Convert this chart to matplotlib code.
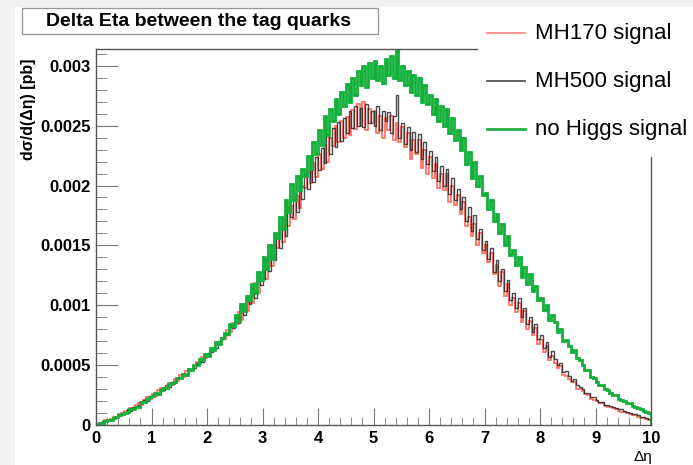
import numpy as np
import matplotlib.pyplot as plt
from matplotlib.lines import Line2D
from matplotlib.patches import Rectangle

plt.rcParams["font.family"] = ["Liberation Sans", "DejaVu Sans"]

# bin contents, in units of 1e-5 pb (bins of 0.05 from 0 to 10),
# one row per 0.25 in delta eta
mh170 = [
    1, 2, 2, 4, 4,
    5, 7, 6, 9, 10,
    12, 11, 14, 13, 17,
    18, 17, 21, 23, 22,
    26, 24, 29, 31, 29,
    31, 35, 33, 38, 37,
    42, 40, 45, 47, 46,
    50, 53, 51, 57, 56,
    58, 63, 62, 68, 67,
    73, 72, 79, 78, 85,
    84, 94, 88, 101, 95,
    108, 102, 119, 110, 127,
    131, 122, 143, 133, 153,
    148, 165, 153, 175, 166,
    183, 172, 191, 181, 200,
    198, 211, 202, 219, 207,
    226, 214, 234, 220, 240,
    233, 250, 236, 254, 240,
    257, 242, 263, 247, 268,
    250, 270, 246, 264, 252,
    262, 244, 258, 240, 256,
    246, 258, 238, 252, 236,
    249, 232, 244, 222, 238,
    226, 238, 215, 230, 210,
    224, 206, 218, 198, 210,
    196, 210, 186, 200, 184,
    192, 176, 186, 166, 174,
    158, 168, 150, 160, 144,
    150, 136, 144, 126, 134,
    116, 128, 108, 118, 100,
    106, 94, 102, 86, 95,
    80, 87, 75, 81, 68,
    71, 61, 66, 54, 58,
    52, 48, 49, 42, 41,
    38, 36, 36, 30, 30,
    28, 26, 25, 22, 21,
    20, 18, 18, 16, 15,
    15, 14, 13, 12, 11,
    11, 10, 9, 8, 8,
    7, 6, 6, 5, 4,
]
mh500 = [
    1, 2, 3, 3, 4,
    5, 6, 7, 9, 9,
    10, 13, 12, 15, 15,
    17, 18, 21, 20, 24,
    25, 27, 26, 30, 29,
    33, 32, 36, 35, 39,
    40, 43, 42, 46, 47,
    48, 52, 54, 53, 58,
    60, 61, 65, 64, 70,
    72, 76, 75, 82, 81,
    90, 85, 99, 92, 104,
    101, 114, 106, 124, 117,
    122, 139, 129, 150, 138,
    160, 148, 172, 158, 182,
    174, 194, 178, 200, 189,
    210, 197, 216, 203, 224,
    213, 231, 219, 241, 226,
    248, 232, 253, 237, 256,
    244, 262, 248, 266, 250,
    265, 249, 268, 252, 262,
    250, 266, 246, 262, 254,
    261, 244, 258, 276, 240,
    252, 235, 249, 230, 245,
    228, 243, 222, 236, 218,
    229, 212, 224, 204, 216,
    200, 214, 193, 206, 188,
    197, 180, 190, 170, 182,
    162, 175, 155, 164, 146,
    154, 139, 148, 128, 138,
    120, 130, 112, 121, 104,
    110, 98, 106, 90, 98,
    84, 90, 78, 84, 72,
    75, 64, 69, 57, 62,
    55, 50, 52, 44, 45,
    41, 37, 38, 33, 32,
    30, 27, 27, 23, 23,
    21, 19, 19, 17, 17,
    16, 15, 14, 13, 13,
    12, 11, 10, 9, 9,
    8, 7, 7, 6, 5,
]
no_higgs = [
    1, 2, 2, 3, 4,
    4, 6, 7, 8, 9,
    10, 11, 13, 13, 15,
    15, 19, 19, 22, 23,
    24, 27, 26, 29, 31,
    31, 34, 35, 36, 39,
    39, 43, 42, 47, 46,
    50, 50, 55, 54, 59,
    58, 64, 63, 69, 68,
    73, 77, 76, 84, 83,
    92, 87, 101, 95, 108,
    104, 118, 110, 128, 121,
    140, 130, 150, 139, 160,
    156, 174, 164, 188, 178,
    201, 188, 208, 196, 214,
    208, 225, 214, 236, 226,
    246, 234, 258, 242, 264,
    254, 272, 260, 278, 266,
    285, 270, 290, 276, 296,
    284, 300, 282, 302, 290,
    304, 288, 300, 286, 306,
    292, 308, 290, 314, 288,
    300, 284, 296, 278, 292,
    276, 290, 270, 284, 268,
    276, 260, 272, 254, 266,
    250, 264, 244, 256, 238,
    246, 230, 240, 218, 228,
    206, 220, 200, 208, 192,
    194, 180, 188, 170, 176,
    160, 168, 150, 158, 142,
    146, 134, 140, 124, 132,
    118, 126, 112, 116, 104,
    106, 96, 100, 88, 92,
    86, 78, 80, 70, 71,
    66, 61, 63, 56, 54,
    50, 46, 46, 40, 39,
    36, 33, 33, 30, 29,
    27, 25, 25, 22, 21,
    20, 18, 18, 16, 15,
    14, 13, 12, 11, 10,
]
unit = 1e-5

x_ticks = list(range(11))
y_ticks = [0, 0.0005, 0.001, 0.0015, 0.002, 0.0025, 0.003]
y_tick_labels = ["0", "0.0005", "0.001", "0.0015", "0.002", "0.0025", "0.003"]

series = [
    ("MH170 signal", mh170, "#ff5a4c", 1.3, 0.85, "#ff8a80"),
    ("MH500 signal", mh500, "#1e1e1e", 1.0, 0.8, "#555555"),
    ("no Higgs signal", no_higgs, "#10b03a", 2.0, 1.0, "#22b044"),
]

W, H = 693, 465
fig = plt.figure(figsize=(W / 100, H / 100), dpi=100, facecolor="white")
ax = fig.add_axes([96 / W, 1 - 425 / H, (651 - 96) / W, (425 - 49) / H])

for name, vals, color, lw, alpha, _ in series:
    v = np.array(vals) * unit
    edges = np.linspace(0, 10, len(v) + 1)
    ax.stairs(v, edges, color=color, lw=lw, alpha=alpha)

ax.set_xlim(0, 10)
ax.set_ylim(0, 0.00314)
ax.set_xticks(x_ticks)
ax.set_xticklabels([str(t) for t in x_ticks])
ax.set_xticks(np.arange(0, 10.01, 0.2), minor=True)
ax.set_yticks(y_ticks)
ax.set_yticklabels(y_tick_labels)
ax.set_yticks(np.arange(0, 0.00314, 0.0001), minor=True)

for lab in ax.get_xticklabels() + ax.get_yticklabels():
    lab.set_fontweight("bold")
    lab.set_fontsize(12)
ax.tick_params(axis="x", which="major", direction="in", length=12, color="#777", pad=4)
ax.tick_params(axis="x", which="minor", direction="in", length=6, color="#777")
ax.tick_params(axis="y", which="major", direction="in", length=16, color="#777", pad=4)
ax.tick_params(axis="y", which="minor", direction="in", length=8, color="#777")
for sp in ax.spines.values():
    sp.set_color("#555")
    sp.set_linewidth(1.0)

# axis titles, ROOT style
fig.text(28 / W, 1 - 58 / H, "d\u03c3/d(\u0394\u03b7) [pb]", rotation=90,
         ha="center", va="top", fontsize=11.5, fontweight="bold")
fig.text(652 / W, 1 - 457 / H, "\u0394\u03b7", ha="right", va="center", fontsize=11)

# gray canvas edges
fig.patches.append(Rectangle((0, 0), 15 / W, 1, transform=fig.transFigure,
                             facecolor="#f2f2f2", edgecolor="none", zorder=0))
fig.patches.append(Rectangle((0, 1 - 7 / H), 1, 7 / H, transform=fig.transFigure,
                             facecolor="#f2f2f2", edgecolor="none", zorder=0))

# title box
fig.patches.append(Rectangle((22 / W, 1 - 34 / H), 356 / W, 26 / H, transform=fig.transFigure,
                             facecolor="white", edgecolor="#999", lw=1, zorder=3))
fig.text(198 / W, 1 - 21 / H, "Delta Eta between the tag quarks", ha="center", va="center",
         fontsize=14, fontweight="bold", zorder=4)

# legend (borderless white box over the top right of the frame)
fig.patches.append(Rectangle((478 / W, 1 - 157 / H), 1, 150 / H, transform=fig.transFigure,
                             facecolor="white", edgecolor="none", zorder=3))
for i, (name, _, _, _, _, lcolor) in enumerate(series):
    yy = 1 - (33 + 48 * i) / H
    fig.add_artist(Line2D([487 / W, 525 / W], [yy, yy], color=lcolor,
                          lw=2.0 if i == 2 else 1.3, zorder=4))
    fig.text(535 / W, yy, name, ha="left", va="center", fontsize=16, zorder=4)

fig.savefig("out.png", dpi=100, facecolor=fig.get_facecolor())
